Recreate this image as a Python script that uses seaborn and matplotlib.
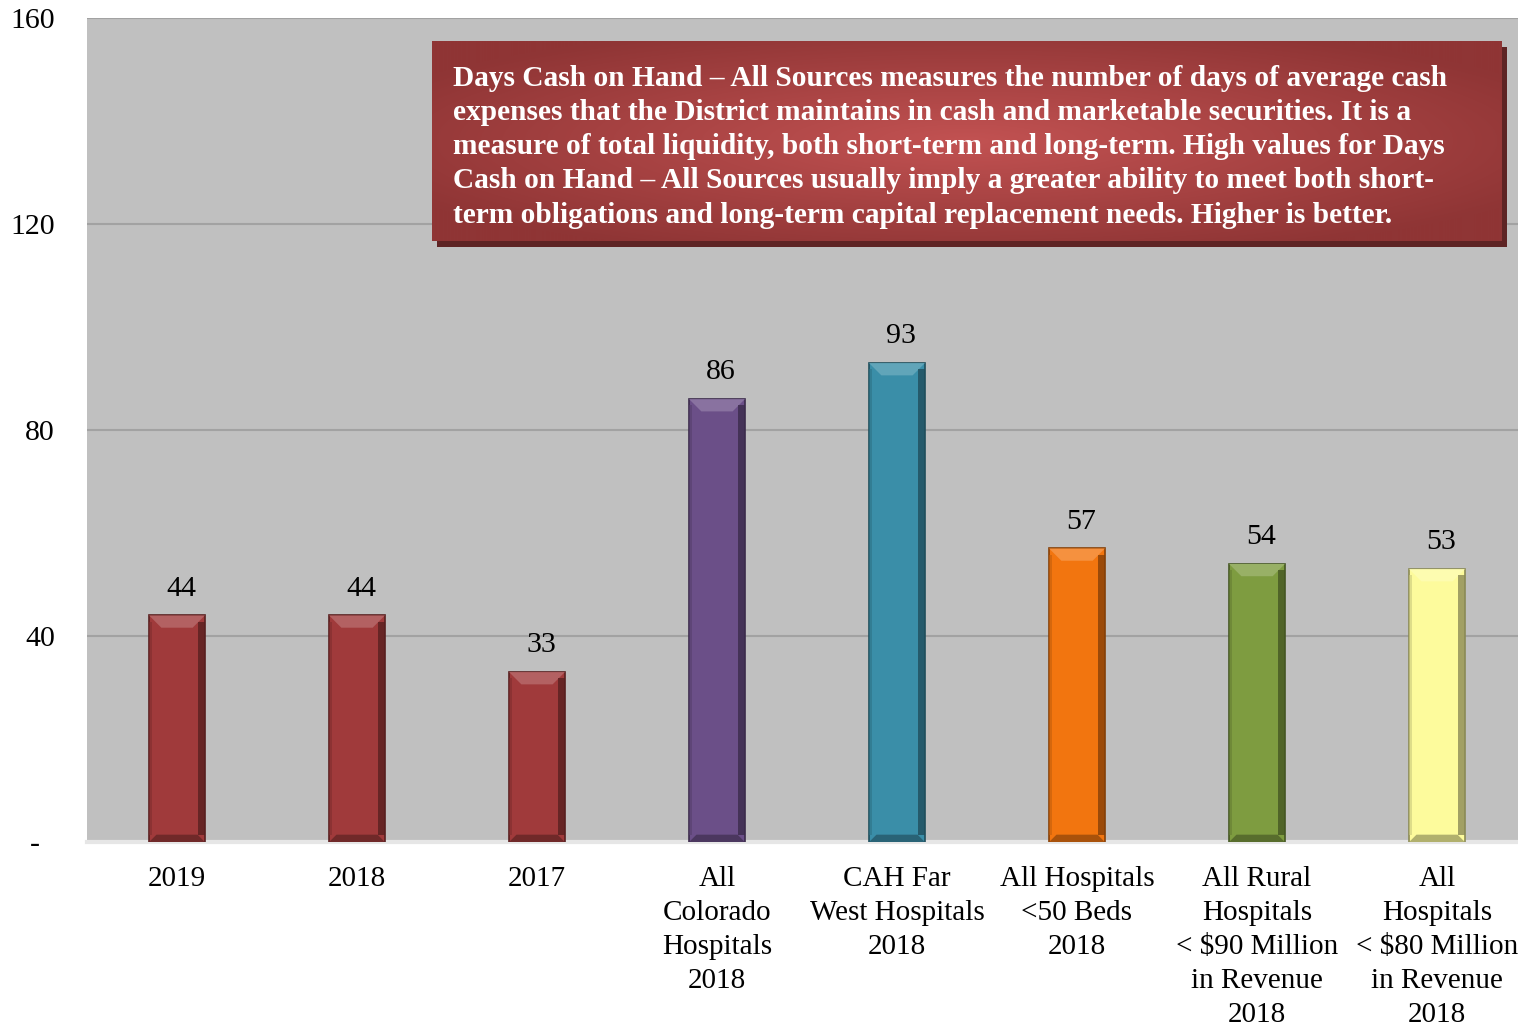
import numpy as np
import pandas as pd
import seaborn as sns
import matplotlib.pyplot as plt
from matplotlib.patches import Rectangle, Polygon
from matplotlib.colors import to_rgb

categories = ['2019', '2018', '2017', 'All\nColorado\nHospitals\n2018', 'CAH Far\nWest Hospitals\n2018',
              'All Hospitals\n<50 Beds\n2018', 'All Rural\nHospitals\n< $90 Million\nin Revenue\n2018',
              'All\nHospitals\n< $80 Million\nin Revenue\n2018']
values = [44, 44, 33, 86, 93, 57, 54, 53]
colors = ['#a03a3b', '#a03a3b', '#a03a3b', '#6b4f88', '#3a8ea8', '#f2750f', '#7e9c40', '#fdfb9c']
yticks = [0, 40, 80, 120, 160]
ytick_labels = ['-  ', '40', '80', '120', '160']

note = ("Days Cash on Hand \u2013 All Sources measures the number of days of average cash\n"
        "expenses that the District maintains in cash and marketable securities. It is a\n"
        "measure of total liquidity, both short-term and long-term. High values for Days\n"
        "Cash on Hand \u2013 All Sources usually imply a greater ability to meet both short-\n"
        "term obligations and long-term capital replacement needs. Higher is better.")


def shade(c, f):
    r = np.array(to_rgb(c))
    if f < 1:
        return tuple(r * f)
    return tuple(r + (1 - r) * (f - 1))


df = pd.DataFrame({'cat': categories, 'val': values})

sns.set_style('white')
plt.rcParams['font.family'] = ['Liberation Serif', 'DejaVu Serif']
plt.rcParams['text.color'] = 'black'

fig = plt.figure(figsize=(15.18, 10.25), dpi=100)
ax = fig.add_axes([0.0573, 0.1785, 0.9427, 0.8039])
ax.set_facecolor('#c0c0c0')

sns.barplot(data=df, x='cat', y='val', hue='cat', palette=colors, legend=False,
            width=0.31, saturation=1, ax=ax, zorder=3)

# bevel look on each bar
for bar, c in zip(ax.patches, colors):
    x0, w, h = bar.get_x(), bar.get_width(), bar.get_height()
    bar.set_edgecolor(shade(c, 0.55))
    bar.set_linewidth(1.2)
    d = w * 0.22
    dy = d * 160 / 824 * 1431 / 7.95
    ax.add_patch(Polygon([(x0, h), (x0 + w, h), (x0 + w - d, h - dy), (x0 + d, h - dy)],
                         closed=True, facecolor=shade(c, 1.2), edgecolor='none', zorder=4))
    ax.add_patch(Polygon([(x0, 0), (x0 + w, 0), (x0 + w - d * 0.6, dy * 0.6), (x0 + d * 0.6, dy * 0.6)],
                         closed=True, facecolor=shade(c, 0.7), edgecolor='none', zorder=4))
    ax.add_patch(Rectangle((x0 + w - w * 0.12, dy * 0.6), w * 0.12, h - dy * 1.1,
                           facecolor=shade(c, 0.55), edgecolor='none', zorder=4, alpha=0.8))
    ax.add_patch(Rectangle((x0, dy * 0.6), w * 0.06, h - dy * 1.1,
                           facecolor=shade(c, 0.8), edgecolor='none', zorder=4, alpha=0.6))

for i, v in enumerate(values):
    ax.annotate(str(v), (i, v), xytext=(3, 10), textcoords='offset points',
                ha='center', va='bottom', fontsize=21.5, color='black')

ax.set_ylim(0, 160)
ax.set_xlim(-0.5, 7.45)
ax.set_yticks(yticks)
ax.set_yticklabels(ytick_labels, fontsize=21.5, color='black')
ax.tick_params(axis='y', length=0, pad=23)
ax.set_xticks(range(len(categories)))
ax.set_xticklabels(categories, fontsize=21, color='black', linespacing=1.4)
ax.tick_params(axis='x', length=0, pad=17)
ax.yaxis.grid(True, color='#a2a2a2', linewidth=1.5, zorder=0)
ax.set_axisbelow(True)
ax.set_xlabel('')
ax.set_ylabel('')
for s in ['left', 'right', 'top']:
    ax.spines[s].set_visible(False)
ax.spines['bottom'].set_color('#e6e6e6')
ax.spines['bottom'].set_linewidth(3)

# explanation box with shadow and radial gradient
fig.patches.append(Rectangle((437 / 1518, 1 - 247 / 1025), 1070 / 1518, 200 / 1025,
                             transform=fig.transFigure, facecolor='#5e2424',
                             edgecolor='none', zorder=4))
bax = fig.add_axes([432 / 1518, 1 - 241 / 1025, 1070 / 1518, 200 / 1025], zorder=5)
yy, xx = np.mgrid[-1:1:200j, -1:1:600j]
rr = np.clip(np.sqrt(xx ** 2 + yy ** 2) / 1.2, 0, 1)
inner = np.array(to_rgb('#c25252'))
outer = np.array(to_rgb('#8f3535'))
grad = inner[None, None, :] * (1 - rr[..., None]) + outer[None, None, :] * rr[..., None]
bax.imshow(grad, aspect='auto', extent=(0, 1, 0, 1))
bax.set_axis_off()
fig.text(453 / 1518, 1 - 65 / 1025, note, ha='left', va='top', color='white',
         fontsize=21.2, fontweight='bold', linespacing=1.34, zorder=6)

plt.savefig('out.png', dpi=100)
